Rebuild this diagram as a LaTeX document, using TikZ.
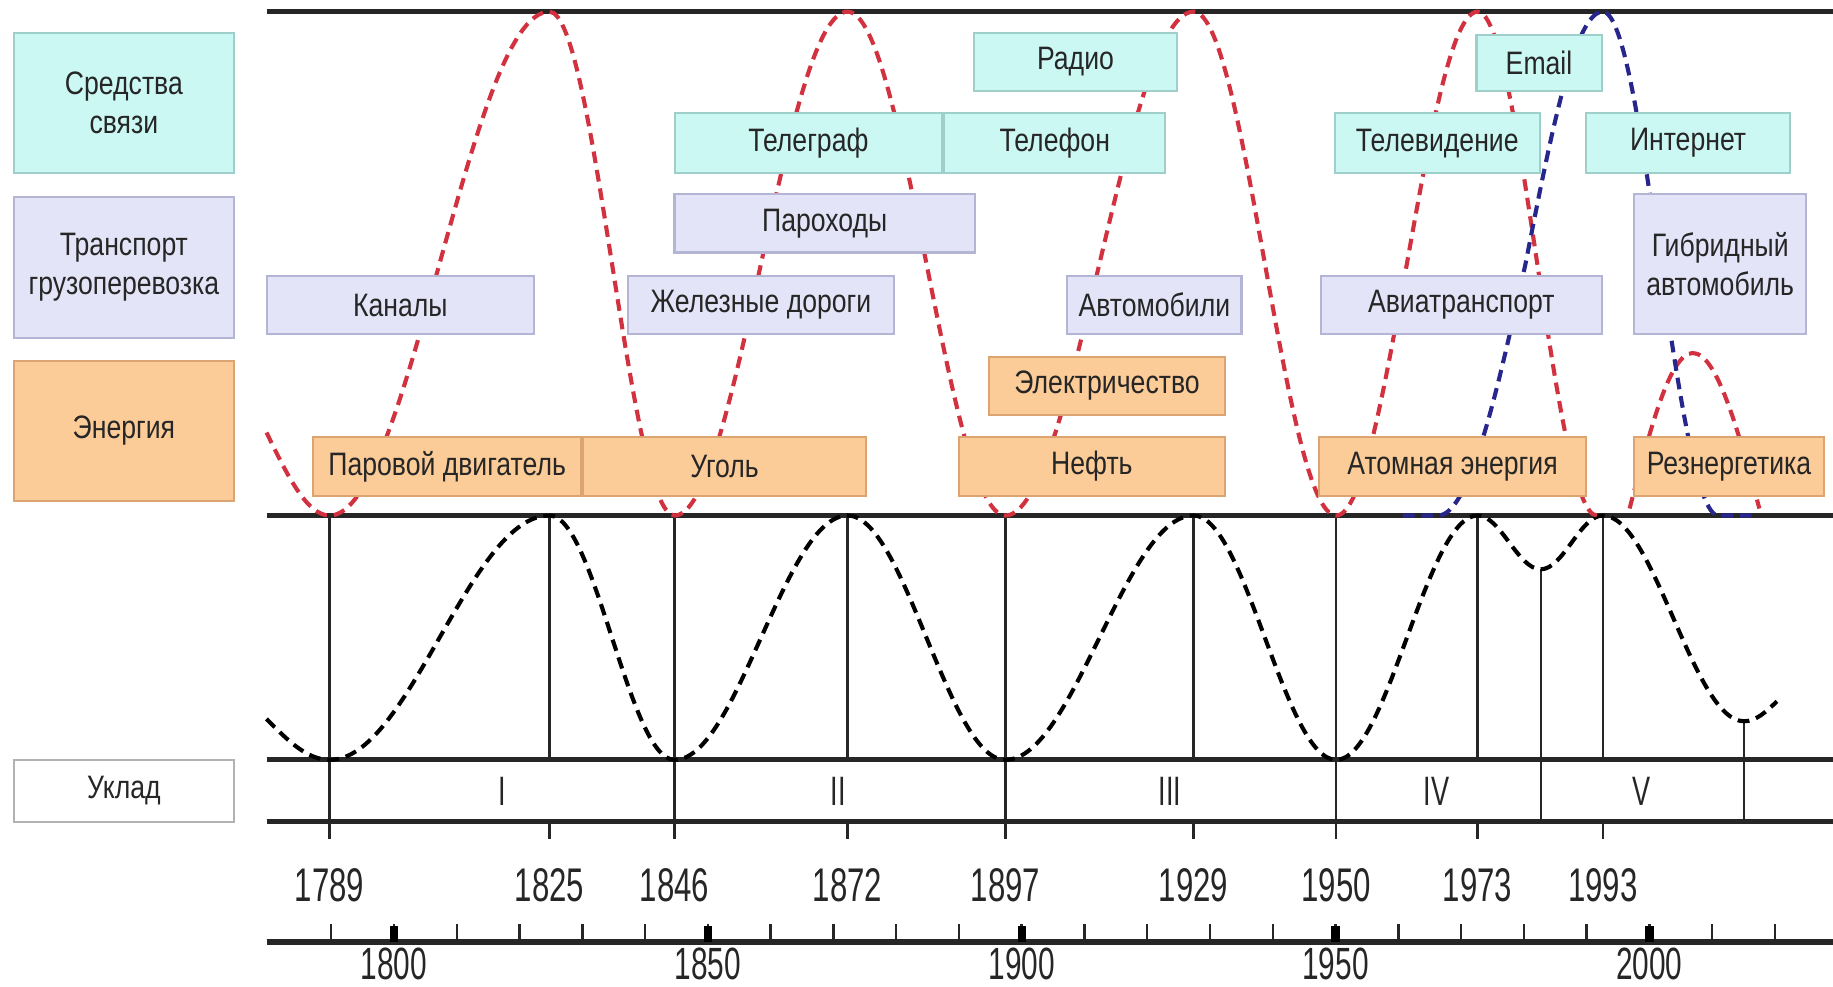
\documentclass[tikz,border=0pt]{standalone}
\usepackage{fontspec}
\setmainfont{Liberation Sans}
\newfontfamily\labelfont{Liberation Sans}[FakeStretch=0.82]
\newfontfamily\yearfont{Liberation Sans}[FakeStretch=0.66]
\usetikzlibrary{positioning}

\definecolor{commfill}{HTML}{CCF8F4}
\definecolor{commline}{HTML}{9FCFCA}
\definecolor{transfill}{HTML}{E4E4F8}
\definecolor{transline}{HTML}{B4B4D4}
\definecolor{energfill}{HTML}{FBCB98}
\definecolor{energline}{HTML}{DCA470}
\definecolor{labeltext}{HTML}{262626}
\definecolor{redwave}{HTML}{D2323F}
\definecolor{bluewave}{HTML}{26268C}

\begin{document}
\begin{tikzpicture}[
      cell/.style={rectangle, draw, line width=0.5pt, inner sep=0pt, align=center, minimum height=0.5cm,
                   font=\labelfont\fontsize{7.9}{9.6}\selectfont, text=labeltext},
      comm/.style={cell, fill=commfill, draw=commline},
      trans/.style={cell, fill=transfill, draw=transline},
      energ/.style={cell, fill=energfill, draw=energline},
      catbox/.style={minimum width=1.88cm, minimum height=1.2cm},
      hline/.style={line width=1.2pt, black!85},
      vline/.style={line width=0.6pt, black!85},
      wave/.style={line width=1pt, dash pattern=on 0.1cm off 0.06cm},
      yearlbl/.style={font=\yearfont\fontsize{11.5}{12}\selectfont, text=labeltext, inner sep=0pt}]
    \useasboundingbox (0,0) rectangle (15.68,-8.44);

    % horizontal rules
    \foreach \y in {-0.10,-4.41,-6.50,-7.03}
      \draw[hline] (2.28,\y) -- (15.68,\y);
    \draw[hline, line width=1.5pt] (2.28,-8.06) -- (15.68,-8.06);

    % period boundaries
    \foreach \x in {2.82,5.77,8.60,11.43}
      \draw[vline] (\x,-4.41) -- (\x,-7.18);
    \foreach \x in {4.70,7.25,10.21,12.64,13.71}
      \draw[vline] (\x,-4.41) -- (\x,-6.50) (\x,-7.03) -- (\x,-7.18);
    \draw[vline] (13.18,-4.87) -- (13.18,-7.03);
    \draw[vline] (14.92,-6.17) -- (14.92,-7.03);

    % years and stages
    \foreach \yr/\x in {1789/2.82,1825/4.70,1846/5.77,1872/7.25,1897/8.60,1929/10.21,1950/11.43,1973/12.64,1993/13.71}
      \node[yearlbl] (yr\yr) at (\x,-7.57) {\yr};
    \foreach \r/\x in {I/4.30,II/7.17,III/10.01,IV/12.29,V/14.04}
      \node[yearlbl, font=\yearfont\fontsize{10}{11}\selectfont] (uk\r) at (\x,-6.77) {\r};

    % time axis
    \foreach \yr in {1790,1800,...,2020}
      \draw[vline] ({3.37+(\yr-1800)*0.0537},-8.06) -- ++(0,0.16);
    \foreach \yr in {1800,1850,...,2000} {
      \draw[line width=2pt] ({3.37+(\yr-1800)*0.0537},-8.06) -- ++(0,0.14);
      \node[yearlbl, font=\yearfont\fontsize{11}{12}\selectfont] (dec\yr) at ({3.37+(\yr-1800)*0.0537},-8.25) {\yr};
    }

    % long waves
    \draw[wave, black] (2.28,-6.15) sin (2.82,-6.50) cos (3.76,-5.455) sin (4.70,-4.41)
      cos (5.235,-5.455) sin (5.77,-6.50) cos (6.51,-5.455) sin (7.25,-4.41)
      cos (7.925,-5.455) sin (8.60,-6.50) cos (9.405,-5.455) sin (10.21,-4.41)
      cos (10.82,-5.455) sin (11.43,-6.50) cos (12.035,-5.455) sin (12.64,-4.41)
      cos (12.91,-4.64) sin (13.18,-4.87) cos (13.445,-4.64) sin (13.71,-4.41)
      cos (14.315,-5.29) sin (14.92,-6.17) cos (15.20,-6.00);
    \draw[wave, redwave] (2.28,-3.70) sin (2.82,-4.41) cos (3.76,-2.255) sin (4.70,-0.10)
      cos (5.235,-2.255) sin (5.77,-4.41) cos (6.51,-2.255) sin (7.25,-0.10)
      cos (7.925,-2.255) sin (8.60,-4.41) cos (9.405,-2.255) sin (10.21,-0.10)
      cos (10.82,-2.255) sin (11.43,-4.41) cos (12.035,-2.255) sin (12.64,-0.10)
      cos (13.15,-2.255) sin (13.66,-4.41);
    \draw[wave, redwave] (13.94,-4.35) sin (14.48,-3.02) cos (15.05,-4.35);
    \draw[wave, bluewave] (12.00,-4.41) -- (12.30,-4.41) cos (13.05,-2.255) sin (13.71,-0.10)
      cos (14.20,-2.255) sin (14.70,-4.41) -- (15.00,-4.41);

    % categories
    \node[comm, catbox] (catcomm) at (1.06,-0.88) {Средства\\связи};
    \node[trans, catbox, below=0.19cm of catcomm] (cattrans) {Транспорт\\грузоперевозка};
    \node[energ, catbox, below=0.18cm of cattrans] (catenerg) {Энергия};
    \node[cell, fill=white, draw=black!30, minimum width=1.88cm, minimum height=0.53cm] (catuklad) at (1.06,-6.765) {Уклад};

    % communications
    \node[comm, minimum width=1.74cm] (radio) at (9.20,-0.53) {Радио};
    \node[comm, minimum width=2.29cm, minimum height=0.51cm] (telegraf) at (6.915,-1.225) {Телеграф};
    \node[comm, minimum width=1.89cm, minimum height=0.51cm, right=0pt of telegraf] (telefon) {Телефон};
    \node[comm, minimum width=1.07cm, minimum height=0.48cm] (email) at (13.165,-0.54) {Email};
    \node[comm, minimum width=1.75cm, minimum height=0.51cm] (tv) at (12.295,-1.225) {Телевидение};
    \node[comm, minimum width=1.74cm, minimum height=0.51cm] (internet) at (14.44,-1.225) {Интернет};

    % transport
    \node[trans, minimum width=2.57cm] (parohod) at (7.055,-1.91) {Пароходы};
    \node[trans, minimum width=2.29cm] (kanal) at (3.425,-2.61) {Каналы};
    \node[trans, minimum width=2.28cm] (zhd) at (6.51,-2.61) {Железные дороги};
    \node[trans, minimum width=1.49cm] (avto) at (9.875,-2.61) {Автомобили};
    \node[trans, minimum width=2.40cm] (avia) at (12.50,-2.61) {Авиатранспорт};
    \node[trans, minimum width=1.47cm, minimum height=1.20cm] (gibrid) at (14.715,-2.26) {Гибридный\\автомобиль};

    % energy
    \node[energ, minimum width=2.02cm] (elektr) at (9.47,-3.30) {Электричество};
    \node[energ, minimum width=2.29cm] (par) at (3.825,-3.99) {Паровой двигатель};
    \node[energ, minimum width=2.42cm, right=0pt of par] (ugol) {Уголь};
    \node[energ, minimum width=2.28cm] (neft) at (9.34,-3.99) {Нефть};
    \node[energ, minimum width=2.29cm] (atom) at (12.425,-3.99) {Атомная энергия};
    \node[energ, minimum width=1.62cm] (rez) at (14.79,-3.99) {Резнергетика};
  \end{tikzpicture}
\end{document}
